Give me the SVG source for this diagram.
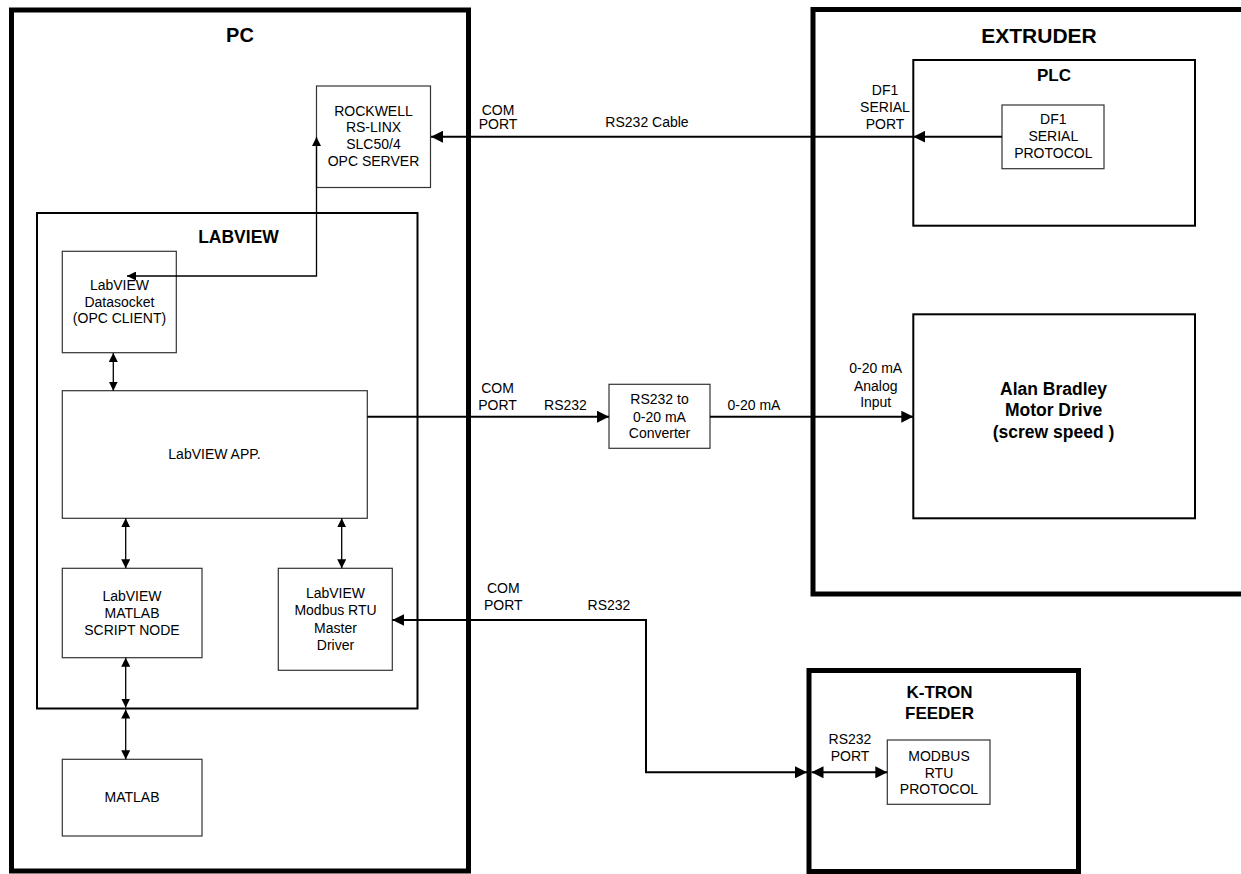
<svg xmlns="http://www.w3.org/2000/svg" width="1241" height="874" viewBox="0 0 1241 874">
<style>
text{font-family:"Liberation Sans",Arial,sans-serif;font-size:14px;fill:#000;text-anchor:middle}
.t1{font-size:20px;font-weight:bold}
.t2{font-size:17.5px;font-weight:bold}
.big{fill:none;stroke:#000;stroke-width:5}
.mid{fill:none;stroke:#000;stroke-width:2}
.box{fill:#fff;stroke:#333;stroke-width:1.2}
.w{fill:none;stroke:#000;stroke-width:2}
.n{fill:none;stroke:#000;stroke-width:1.3}
</style>
<defs>
<marker id="aL" markerUnits="userSpaceOnUse" markerWidth="12" markerHeight="12" refX="12" refY="6" orient="auto-start-reverse" viewBox="0 0 12 12"><path d="M0,0 L12,6 L0,12 z" fill="#000"/></marker>
<marker id="aS" markerUnits="userSpaceOnUse" markerWidth="9" markerHeight="9" refX="9" refY="4.5" orient="auto-start-reverse" viewBox="0 0 9 9"><path d="M0,0 L9,4.5 L0,9 z" fill="#000"/></marker>
</defs>
<rect width="1241" height="874" fill="#fff"/>

<g id="pc">
<rect class="big" x="11.5" y="10" width="457" height="861"/>
<text class="t1" x="240" y="42">PC</text>
</g>
<g id="extruder">
<rect class="big" x="813" y="9.5" width="440" height="584.5"/>
<text class="t1" x="1039" y="42.5" style="font-size:21px">EXTRUDER</text>
</g>
<g id="ktron">
<rect class="big" x="809" y="670.5" width="269.5" height="201"/>
<text class="t2" x="939.5" y="697.8" style="font-size:17px">K-TRON</text>
<text class="t2" x="939.5" y="718.8" style="font-size:17px">FEEDER</text>
</g>
<g id="labview">
<rect class="mid" x="37" y="213" width="380.5" height="495.5"/>
<text class="t2" x="238.5" y="243">LABVIEW</text>
</g>
<g id="plc">
<rect class="mid" x="913.3" y="60" width="281.7" height="165.7"/>
<text class="t2" x="1054" y="81" style="font-size:17px">PLC</text>
</g>
<g id="motor">
<rect class="mid" x="913.3" y="314.3" width="281.7" height="204"/>
<text class="t2" x="1053.5" y="394.5">Alan Bradley</text>
<text class="t2" x="1053.5" y="416">Motor Drive</text>
<text class="t2" x="1053.5" y="437.5">(screw speed )</text>
</g>
<g id="rockwell">
<rect class="box" x="316.5" y="86" width="114" height="101.5"/>
<text x="373.5" y="115.5">ROCKWELL</text>
<text x="373.5" y="132.3">RS-LINX</text>
<text x="373.5" y="149.1">SLC50/4</text>
<text x="373.5" y="165.9">OPC SERVER</text>
</g>
<g id="datasocket">
<rect class="box" x="62.3" y="251.3" width="114" height="101.4"/>
<text x="119.5" y="290">LabVIEW</text>
<text x="119.5" y="306.7">Datasocket</text>
<text x="119.5" y="323.3">(OPC CLIENT)</text>
</g>
<g id="app">
<rect class="box" x="62.3" y="390.7" width="305" height="127.6"/>
<text x="214.5" y="459">LabVIEW APP.</text>
</g>
<g id="scriptnode">
<rect class="box" x="62.3" y="568.3" width="139.7" height="89.4"/>
<text x="132" y="600.7">LabVIEW</text>
<text x="132" y="617.7">MATLAB</text>
<text x="132" y="635">SCRIPT NODE</text>
</g>
<g id="modbusdriver">
<rect class="box" x="278.3" y="568.3" width="114" height="102"/>
<text x="335.5" y="597.7">LabVIEW</text>
<text x="335.5" y="615">Modbus RTU</text>
<text x="335.5" y="632.7">Master</text>
<text x="335.5" y="650">Driver</text>
</g>
<g id="matlab">
<rect class="box" x="62.3" y="759.3" width="139.7" height="76.7"/>
<text x="132" y="801.7">MATLAB</text>
</g>
<g id="df1protocol">
<rect class="box" x="1002" y="105" width="102" height="63.7"/>
<text x="1053.3" y="124">DF1</text>
<text x="1053.3" y="141">SERIAL</text>
<text x="1053.3" y="157.7">PROTOCOL</text>
</g>
<g id="converter">
<rect class="box" x="609" y="384.3" width="101" height="64"/>
<text x="659.5" y="404.3">RS232 to</text>
<text x="659.5" y="421.7">0-20 mA</text>
<text x="659.5" y="438.3">Converter</text>
</g>
<g id="modbusrtu">
<rect class="box" x="887.3" y="740" width="102.7" height="64.3"/>
<text x="939" y="760.7">MODBUS</text>
<text x="939" y="777.7">RTU</text>
<text x="939" y="794.3">PROTOCOL</text>
</g>

<g id="connectors">
<path class="w" d="M1002,136.7 L913.3,136.7" marker-end="url(#aL)"/>
<path class="w" d="M913.3,136.7 L431,136.7" marker-end="url(#aL)"/>
<path class="n" d="M316.5,137 L316.5,276 L127,276" marker-start="url(#aS)" marker-end="url(#aS)"/>
<path class="n" d="M113.3,353 L113.3,390.7" marker-start="url(#aS)" marker-end="url(#aS)"/>
<path class="n" d="M125.7,518.3 L125.7,568.3" marker-start="url(#aS)" marker-end="url(#aS)"/>
<path class="n" d="M341.7,518.3 L341.7,568.3" marker-start="url(#aS)" marker-end="url(#aS)"/>
<path class="n" d="M125.7,657.7 L125.7,707.5" marker-start="url(#aS)" marker-end="url(#aS)"/>
<path class="n" d="M125.7,709.5 L125.7,759.3" marker-start="url(#aS)" marker-end="url(#aS)"/>
<path class="w" d="M367.3,416.7 L609,416.7" marker-end="url(#aL)"/>
<path class="w" d="M710,416.7 L913.3,416.7" marker-end="url(#aL)"/>
<path class="w" d="M392.3,620 L646,620 L646,772.3 L807,772.3" marker-start="url(#aL)" marker-end="url(#aL)"/>
<path class="w" d="M811.5,772.3 L887.3,772.3" marker-start="url(#aL)" marker-end="url(#aL)"/>
</g>

<g id="labels">
<text x="498" y="114.7">COM</text>
<text x="498" y="128.8">PORT</text>
<text x="647" y="127.3">RS232 Cable</text>
<text x="885" y="95">DF1</text>
<text x="885" y="112.3">SERIAL</text>
<text x="885" y="129">PORT</text>
<text x="497.5" y="393.3">COM</text>
<text x="497.5" y="410">PORT</text>
<text x="565.5" y="410">RS232</text>
<text x="754" y="410">0-20 mA</text>
<text x="875.7" y="373.3">0-20 mA</text>
<text x="875.7" y="390.7">Analog</text>
<text x="875.7" y="407.3">Input</text>
<text x="503.3" y="593.3">COM</text>
<text x="503.3" y="610">PORT</text>
<text x="609" y="610">RS232</text>
<text x="850" y="744">RS232</text>
<text x="850" y="761">PORT</text>
</g>
</svg>
